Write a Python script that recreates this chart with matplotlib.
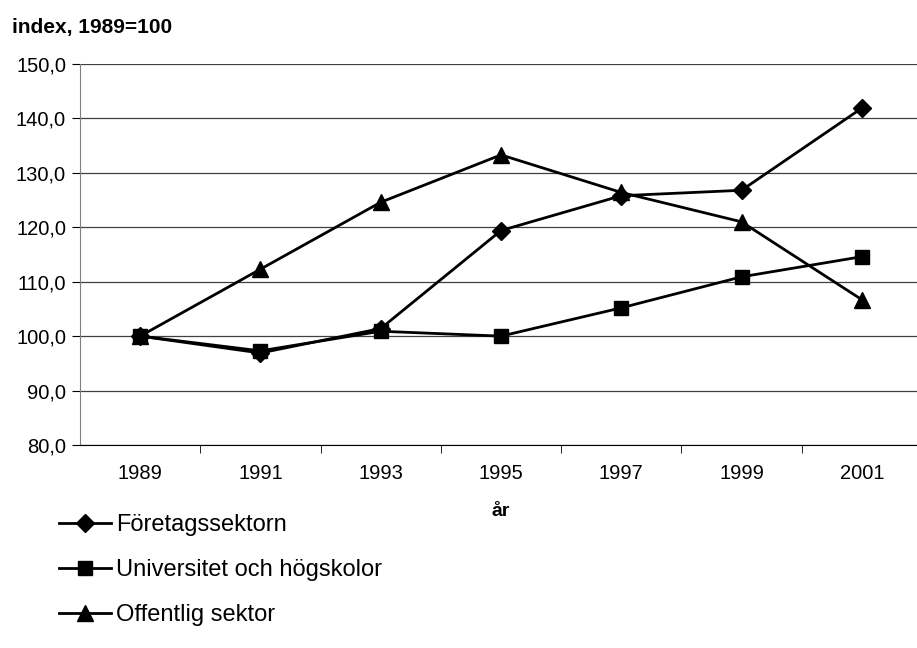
import numpy as np
import matplotlib
matplotlib.use('Agg')
import matplotlib.pyplot as plt

plt.rcParams['font.family'] = ['Liberation Sans', 'DejaVu Sans']

years = ['1989', '1991', '1993', '1995', '1997', '1999', '2001']
foretag = [100.0, 96.9, 101.4, 119.4, 125.8, 126.8, 141.9]
universitet = [100.0, 97.3, 100.9, 100.0, 105.2, 110.9, 114.6]
offentlig = [100.0, 112.3, 124.6, 133.3, 126.4, 121.0, 106.7]
y_ticks = [80, 90, 100, 110, 120, 130, 140, 150]

fig = plt.figure(figsize=(9.17, 6.48), dpi=100)
ax = fig.add_axes([80/917, 1-445/648, 842/917, 381/648])

x = np.arange(len(years))
ax.plot(x, foretag, color='black', lw=2, marker='D', ms=9, label='Företagssektorn')
ax.plot(x, universitet, color='black', lw=2, marker='s', ms=10, label='Universitet och högskolor')
ax.plot(x, offentlig, color='black', lw=2, marker='^', ms=11, label='Offentlig sektor')

ax.set_xlim(-0.5, len(years)-0.5)
ax.set_ylim(80, 150)
ax.set_yticks(y_ticks)
ax.set_yticklabels([f'{v:.1f}'.replace('.', ',') for v in y_ticks], fontsize=14.5)
ax.yaxis.grid(True, color='#404040', lw=0.9)
ax.set_axisbelow(True)

ax.set_xticks(x)
ax.set_xticklabels(years, fontsize=14.5)
ax.tick_params(axis='x', length=0, pad=14)
ax.set_xticks(np.arange(0.5, len(years)-0.5), minor=True)
ax.tick_params(axis='x', which='minor', length=6, color='black', direction='out')
ax.tick_params(axis='y', length=6, color='black', direction='out', pad=4)

for s in ['top', 'right']:
    ax.spines[s].set_visible(False)
ax.spines['left'].set_color('#808080')
ax.spines['bottom'].set_color('black')

ax.set_xlabel('år', fontsize=14, fontweight='bold', labelpad=14)
fig.text(12/917, 1-28/648, 'index, 1989=100', fontsize=15, fontweight='bold', va='center')

fig.legend(loc='upper left', bbox_to_anchor=(50/917, 1-505/648), frameon=False,
           fontsize=17, handlelength=2.2, handletextpad=0.2, labelspacing=0.97,
           borderaxespad=0)

fig.savefig('out.png', dpi=100)
